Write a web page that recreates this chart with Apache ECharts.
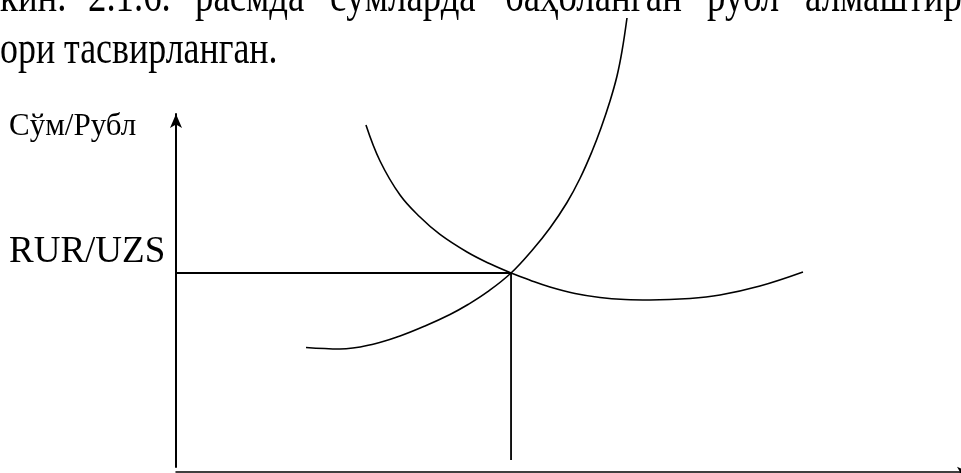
<!DOCTYPE html>
<html>
<head>
<meta charset="utf-8">
<script src="https://cdn.jsdelivr.net/npm/echarts@6/dist/echarts.min.js"></script>
<style>
  html, body { margin: 0; padding: 0; background: #fff; }
  #chart { width: 961px; height: 473px; }
</style>
</head>
<body>
<div id="chart"></div>
<script>
// steep rising curve (lower left -> top)
var risingCurve = [
  [16.56, 33.85], [20.89, 33.43], [25.35, 34.93], [28.54, 37.11], [31.72, 39.94],
  [34.90, 43.20], [37.20, 46.03], [39.62, 49.52], [42.68, 54.96], [45.48, 61.70],
  [47.64, 67.71], [49.81, 74.93], [51.46, 81.73], [52.99, 89.38], [54.14, 96.03],
  [55.29, 103.68], [56.18, 110.76], [56.82, 117.85], [57.45, 127.20]
]
// u-shaped curve (upper left -> min -> right)
var uCurve = [
  [24.20, 96.88], [25.99, 86.69], [28.54, 77.05], [31.08, 70.82], [33.63, 65.89],
  [37.07, 60.91], [40.00, 57.56], [42.68, 54.96], [45.10, 52.92], [47.64, 50.99],
  [50.83, 49.15], [54.01, 48.02], [57.20, 47.45], [60.38, 47.31], [65.48, 47.73],
  [69.30, 48.73], [74.39, 51.27], [79.87, 55.24]
]
// equilibrium point and where the drop line stops
var equilibrium = [42.68, 54.96]
var dropLineEnd = 2.0

var yAxisName = 'Сўм/Рубл'
var rateLabel = 'RUR/UZS'
var topLine1 = ['кин.', '2.1.6.', 'расмда', 'сўмларда', 'баҳоланган', 'рубл', 'алмаштир']
var topLine1X = [0, 88, 195, 330, 505, 707, 805]
var topLine2 = 'ори тасвирланган.'

var serif = '"Liberation Serif", "DejaVu Serif", serif'
var chart = echarts.init(document.getElementById('chart'))

var graphics = []
topLine1.forEach(function(w, i) {
  graphics.push({
    type: 'text', x: topLine1X[i], y: -24, scaleX: 0.8,
    style: { text: w, font: '46px ' + serif, fill: '#000', textVerticalAlign: 'top' }
  })
})
graphics.push({
  type: 'text', x: 0, y: 28, scaleX: 0.78,
  style: { text: topLine2, font: '46px ' + serif, fill: '#000', textVerticalAlign: 'top' }
})
graphics.push({
  type: 'text', x: 9, y: 111,
  style: { text: yAxisName, font: '31px ' + serif, fill: '#000', textVerticalAlign: 'top' }
})
graphics.push({
  type: 'text', x: 9, y: 234,
  style: { text: rateLabel, font: '37px ' + serif, fill: '#000', textVerticalAlign: 'top' }
})

var lineStyle = { color: '#000', width: 1.6 }

chart.setOption({
  animation: false,
  backgroundColor: '#fff',
  grid: { left: 176, right: 0, top: 114, bottom: 6 },
  xAxis: {
    type: 'value', min: 0, max: 100, offset: 5,
    axisLine: {
      show: true, onZero: false,
      symbol: ['none', 'arrow'], symbolSize: [8, 12], symbolOffset: [0, 8],
      lineStyle: { color: '#000', width: 1.5 }
    },
    axisTick: { show: false }, axisLabel: { show: false }, splitLine: { show: false }
  },
  yAxis: {
    type: 'value', min: 0, max: 100,
    axisLine: {
      show: true, onZero: false,
      symbol: ['none', 'arrow'], symbolSize: [9, 14],
      lineStyle: { color: '#000', width: 2 }
    },
    axisTick: { show: false }, axisLabel: { show: false }, splitLine: { show: false }
  },
  graphic: graphics,
  series: [
    {
      type: 'line', data: risingCurve, smooth: 0.4, showSymbol: false, clip: false,
      lineStyle: lineStyle
    },
    {
      type: 'line', data: uCurve, smooth: 0.4, showSymbol: false, clip: false,
      lineStyle: lineStyle
    },
    {
      type: 'line', showSymbol: false, clip: false,
      data: [[0, equilibrium[1]], equilibrium, [equilibrium[0], dropLineEnd]],
      lineStyle: { color: '#000', width: 1.8 }
    }
  ]
})
</script>
</body>
</html>
